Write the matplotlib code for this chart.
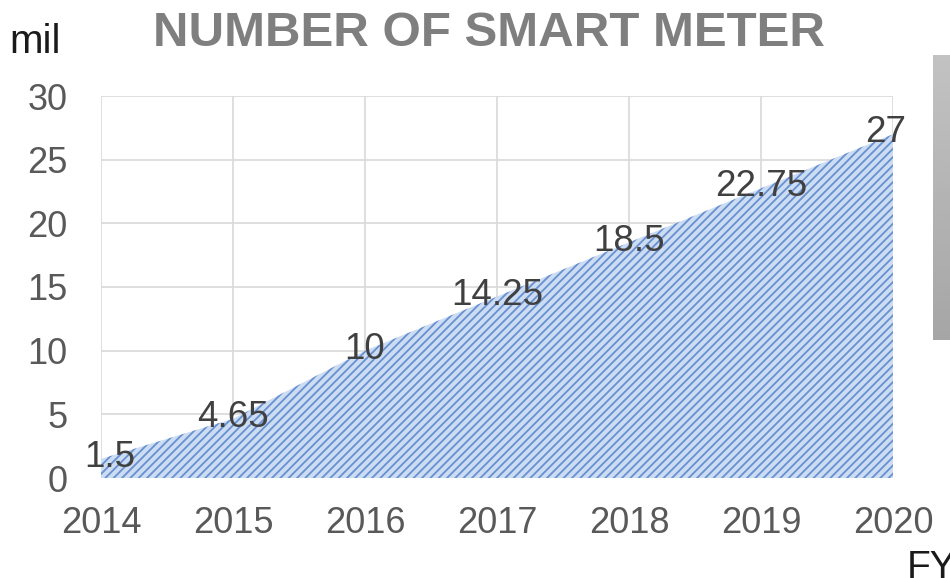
import numpy as np
import matplotlib.pyplot as plt

plt.rcParams['font.family'] = ['Liberation Sans', 'DejaVu Sans']
plt.rcParams['hatch.linewidth'] = 1.3
plt.rcParams['hatch.color'] = '#6890d0'

# data
years = [2014, 2015, 2016, 2017, 2018, 2019, 2020]
meters = [1.5, 4.65, 10, 14.25, 18.5, 22.75, 27]
labels = ['1.5', '4.65', '10', '14.25', '18.5', '22.75', '27']
yticks = [0, 5, 10, 15, 20, 25, 30]

fig = plt.figure(figsize=(9.5, 5.78), dpi=100)
ax = fig.add_axes([101 / 950, 1 - 478 / 578, 792 / 950, 382 / 578])

ax.fill_between(years, meters, 0, facecolor='#cbdcf3', edgecolor='#6890d0',
                hatch='////', linewidth=0, zorder=2)

# data labels, nudged at the edges so they stay inside
nudge = [6, 0, 0, 0, 0, 0, -5]
for x, y, t, dx in zip(years, meters, labels, nudge):
    ax.annotate(t, (x, y), xytext=(dx, 1), textcoords='offset points',
                ha='center', va='center', fontsize=26.5, color='#404040', zorder=3)

ax.set_xlim(2014, 2020)
ax.set_ylim(0, 30)
ax.set_xticks(years)
ax.set_yticks(yticks)
ax.tick_params(length=0, labelsize=26, labelcolor='#595959')
ax.tick_params(axis='x', pad=20)
ax.tick_params(axis='y', pad=24)
ax.grid(True, color='#d9d9d9', linewidth=1.2, zorder=0)
ax.set_axisbelow(True)
for s in ax.spines.values():
    s.set_visible(False)

fig.text(489 / 950, 1 - 33 / 578, 'NUMBER OF SMART METER', ha='center', va='center',
         fontsize=35.5, fontweight='bold', color='#7f7f7f')
fig.text(9 / 950, 1 - 42 / 578, 'mil', ha='left', va='center', fontsize=29, color='#1a1a1a')
fig.text(907 / 950, 1 - 550 / 578, 'FY', ha='left', va='top', fontsize=28, color='#1a1a1a')

# grey bar on the right edge
bar = fig.add_axes([933 / 950, 1 - 340 / 578, 17 / 950, 285 / 578])
grad = np.linspace(0.76, 0.65, 100)[:, None]
bar.imshow(grad, aspect='auto', cmap='gray', vmin=0, vmax=1)
bar.axis('off')

fig.savefig('out.png', dpi=100)
